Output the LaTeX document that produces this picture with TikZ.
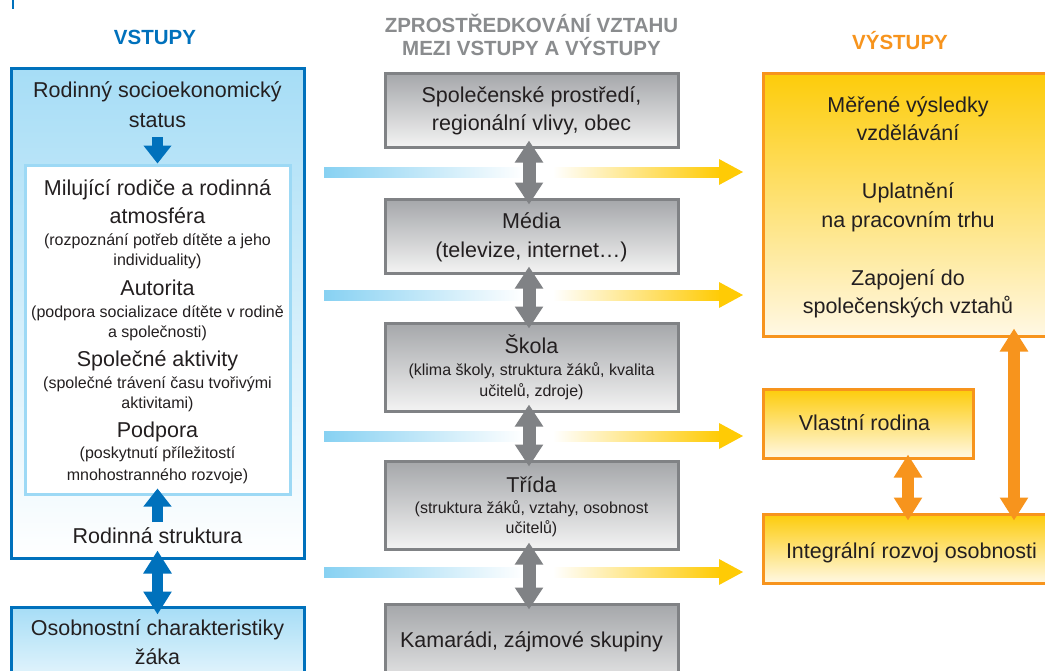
\documentclass[tikz,border=0pt]{standalone}
\usepackage{fontspec}
\setmainfont{Liberation Sans}
\usetikzlibrary{arrows.meta,calc}
\definecolor{vblue}{RGB}{0,113,188}
\definecolor{ltop}{RGB}{166,221,246}
\definecolor{iborder}{RGB}{157,217,245}
\definecolor{hblue}{RGB}{135,209,242}
\definecolor{ghdr}{RGB}{138,140,142}
\definecolor{gtop}{RGB}{165,167,170}
\definecolor{gbot}{RGB}{243,243,243}
\definecolor{gborder}{RGB}{128,130,133}
\definecolor{orng}{RGB}{247,148,29}
\definecolor{hyel}{RGB}{255,203,5}
\definecolor{ytop}{RGB}{253,204,10}
\definecolor{ybot}{RGB}{255,248,228}
\definecolor{tx}{RGB}{35,31,32}
\tikzset{
  big/.style={font=\fontsize{21.5}{26}\selectfont, text=tx, inner sep=0pt, anchor=base},
  small/.style={font=\fontsize{16}{20}\selectfont, text=tx, inner sep=0pt, anchor=base},
  hdr/.style={font=\bfseries\fontsize{20.5}{25}\selectfont, inner sep=0pt, anchor=base},
  lbox/.style={draw=vblue, line width=3pt, top color=ltop, bottom color=white, inner sep=0pt},
  ibox/.style={draw=iborder, line width=3pt, fill=white, inner sep=0pt},
  gbox/.style={draw=gborder, line width=3pt, top color=gtop, bottom color=gbot, inner sep=0pt, minimum width=293pt},
  ybox/.style={draw=orng, line width=3pt, top color=ytop, bottom color=ybot, inner sep=0pt},
  barrow/.style={draw=vblue, line width=11pt, -{Triangle[length=18pt,width=27pt]}},
  bdarrow/.style={draw=vblue, line width=11pt, {Triangle[length=23pt,width=27pt]}-{Triangle[length=23pt,width=27pt]}},
  garrow/.style={draw=gborder, line width=13pt, {Triangle[length=22pt,width=27pt]}-{Triangle[length=22pt,width=27pt]}},
  oarrow/.style={draw=orng, line width=12pt, {Triangle[length=23pt,width=27pt]}-{Triangle[length=23pt,width=27pt]}},
}
\begin{document}
\begin{tikzpicture}[x=1pt,y=-1pt]
\clip (0,0) rectangle (1045,670);
\fill[white] (0,0) rectangle (1045,670);
\draw[vblue, line width=2pt] (13,0) -- (13,9);

% headers
\node[hdr, text=vblue] (h1) at (155,44) {VSTUPY};
\node[hdr, text=ghdr] (h2a) at (531.5,32) {ZPROSTŘEDKOVÁNÍ VZTAHU};
\node[hdr, text=ghdr] (h2b) at (531.5,55) {MEZI VSTUPY A VÝSTUPY};
\node[hdr, text=orng] (h3) at (900,49) {VÝSTUPY};

% left column
\node[lbox, minimum width=293pt, minimum height=490pt] (L) at (157.5,313) {};
\node[ibox, minimum width=265pt, minimum height=329pt] (I) at (157.5,329.5) {};
\node[lbox, minimum width=293pt, minimum height=103pt] (O) at (157.5,658.5) {};

\node[big] (t1) at (157.5,97) {Rodinný socioekonomický};
\node[big] (t2) at (157.5,127) {status};
\node[big] (t3) at (157.5,195) {Milující rodiče a rodinná};
\node[big] (t4) at (157.5,223) {atmosféra};
\node[small] (t5) at (157.5,245) {(rozpoznání potřeb dítěte a jeho};
\node[small] (t6) at (157.5,265) {individuality)};
\node[big] (t7) at (157.5,295) {Autorita};
\node[small] (t8) at (157.5,317) {(podpora socializace dítěte v rodině};
\node[small] (t9) at (157.5,337) {a společnosti)};
\node[big] (t10) at (157.5,366) {Společné aktivity};
\node[small] (t11) at (157.5,388) {(společné trávení času tvořivými};
\node[small] (t12) at (157.5,408) {aktivitami)};
\node[big] (t13) at (157.5,437) {Podpora};
\node[small] (t14) at (157.5,458) {(poskytnutí příležitostí};
\node[small] (t15) at (157.5,480) {mnohostranného rozvoje)};
\node[big] (t16) at (157.5,543) {Rodinná struktura};
\node[big] (t17) at (157.5,635) {Osobnostní charakteristiky};
\node[big] (t18) at (157.5,664) {žáka};

\coordinate (dtop) at (157.5,137);
\coordinate (ubot) at (157.5,522);
\draw[barrow] (dtop) -- (I.north);
\draw[barrow, shorten >=-7pt] (ubot) -- (I.south);
\draw[bdarrow, shorten <=-9pt, shorten >=-9pt] (L.south) -- (O.north);

% middle column
\node[gbox, minimum height=74pt] (G1) at (531.5,110) {};
\node[gbox, minimum height=74pt] (G2) at (531.5,236) {};
\node[gbox, minimum height=88pt] (G3) at (531.5,367) {};
\node[gbox, minimum height=88pt] (G4) at (531.5,505) {};
\node[gbox, minimum height=96pt] (G5) at (531.5,652) {};

\node[big] (m1) at (531.5,102) {Společenské prostředí,};
\node[big] (m2) at (531.5,130) {regionální vlivy, obec};
\node[big] (m3) at (531.5,228) {Média};
\node[big] (m4) at (531.5,257) {(televize, internet…)};
\node[big] (m5) at (531.5,353) {Škola};
\node[small] (m6) at (531.5,375) {(klima školy, struktura žáků, kvalita};
\node[small] (m7) at (531.5,396) {učitelů, zdroje)};
\node[big] (m8) at (531.5,492) {Třída};
\node[small] (m9) at (531.5,513) {(struktura žáků, vztahy, osobnost};
\node[small] (m10) at (531.5,533) {učitelů)};
\node[big] (m11) at (531.5,647) {Kamarádi, zájmové skupiny};

% horizontal arrows
\foreach \yy in {172,295,436,572} {
  \shade[left color=hblue, right color=white] (324,\yy-5) rectangle (524,\yy+5);
  \shade[left color=white, right color=hyel] (553,\yy-5) rectangle (720,\yy+5);
  \fill[hyel] (719,\yy-13) -- (743,\yy) -- (719,\yy+13) -- cycle;
}

\coordinate (gx) at (529,0);
\draw[garrow, shorten <=-8pt, shorten >=-7pt] (G1.south -| gx) -- (G2.north -| gx);
\draw[garrow, shorten <=-8pt, shorten >=-7pt] (G2.south -| gx) -- (G3.north -| gx);
\draw[garrow, shorten <=-8pt, shorten >=-7pt] (G3.south -| gx) -- (G4.north -| gx);
\draw[garrow, shorten <=-8pt, shorten >=-7pt] (G4.south -| gx) -- (G5.north -| gx);

% right column
\node[ybox, minimum width=297pt, minimum height=263pt] (R1) at (911.5,204.5) {};
\node[ybox, minimum width=210pt, minimum height=69pt] (R2) at (868,423.5) {};
\node[ybox, minimum width=297pt, minimum height=69pt] (R3) at (911.5,548.5) {};

\node[big] (r1) at (908,112) {Měřené výsledky};
\node[big] (r2) at (908,140) {vzdělávání};
\node[big] (r3) at (908,198) {Uplatnění};
\node[big] (r4) at (908,227) {na pracovním trhu};
\node[big] (r5) at (908,285) {Zapojení do};
\node[big] (r6) at (908,313) {společenských vztahů};
\node[big] (r7) at (864.5,430) {Vlastní rodina};
\node[big] (r8) at (911.5,558) {Integrální rozvoj osobnosti};

\coordinate (oa) at (908,0);
\coordinate (ob) at (1014,0);
\draw[oarrow, shorten <=-5pt, shorten >=-8pt] (R2.south -| oa) -- (R3.north -| oa);
\draw[oarrow, shorten <=-9pt, shorten >=-8pt] (R1.south -| ob) -- (R3.north -| ob);
\end{tikzpicture}
\end{document}
